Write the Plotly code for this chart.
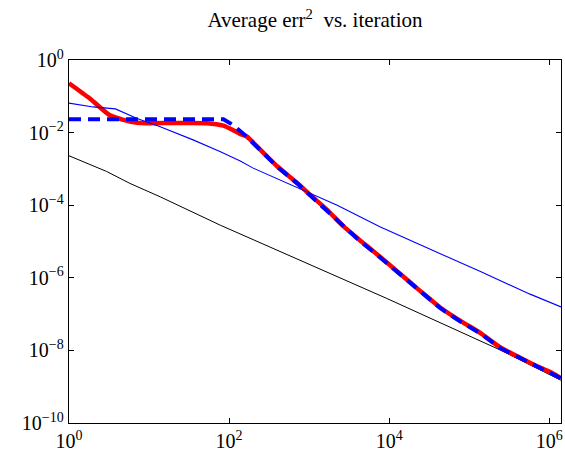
import plotly.graph_objects as go

# ---- data ----
black_x = [1, 2.95, 5.75, 13.8, 78, 436, 9330, 245000, 1.4e6]
black_y = [2.3e-3, 8.5e-4, 4.0e-4, 1.7e-4, 2.8e-5, 5.2e-6, 2.7e-7, 1.02e-8, 1.5e-9]

thin_x = [1, 2, 3.8, 7.08, 13.8, 35.5, 78, 138, 200, 436, 776, 2240, 7760, 32400, 138000, 575000, 1.4e6]
thin_y = [0.065, 0.051, 0.045, 0.0245, 0.0145, 0.0063, 0.00295, 0.00166, 0.00105, 4.9e-4,
          2.8e-4, 1.0e-4, 2.5e-5, 6.3e-6, 1.48e-6, 3.55e-7, 1.58e-7]

dash_x = [1, 85, 112, 158, 245, 398, 708, 1023, 1660, 2690, 4365, 7080, 12000, 24500, 43650,
          77600, 138000, 245000, 436500, 776000, 1.4e6]
dash_y = [0.0234, 0.0234, 0.0162, 0.0085, 0.0033, 0.00115, 4.0e-4, 1.9e-4, 7.4e-5, 2.57e-5,
          1.0e-5, 4.27e-6, 1.62e-6, 4.17e-7, 1.45e-7, 6.2e-8, 2.95e-8, 1.15e-8, 6.0e-9, 3.2e-9, 1.7e-9]

red_x = [1, 1.82, 3.24, 4.79, 7.08, 10, 52.5, 85, 112, 138, 166, 245, 398, 708, 1023, 1660,
         2690, 4365, 7080, 12000, 24500, 43650, 77600, 138000, 245000, 436500, 776000, 1.0e6, 1.4e6]
red_y = [0.229, 0.087, 0.030, 0.0224, 0.0186, 0.0182, 0.0182, 0.0155, 0.0117, 0.0091, 0.0078,
         0.0034, 0.00118, 4.1e-4, 1.95e-4, 7.6e-5, 2.6e-5, 1.05e-5, 4.4e-6, 1.65e-6, 4.3e-7,
         1.5e-7, 6.5e-8, 3.0e-8, 1.2e-8, 6.2e-9, 3.3e-9, 2.6e-9, 1.7e-9]

x_tickvals = [1, 1e2, 1e4, 1e6]
x_ticktext = ["10<sup>0</sup>", "10<sup>2</sup>", "10<sup>4</sup>", "10<sup>6</sup>"]
y_tickvals = [1, 1e-2, 1e-4, 1e-6, 1e-8, 1e-10]
y_ticktext = ["10<sup>0</sup>", "10<sup>−2</sup>", "10<sup>−4</sup>", "10<sup>−6</sup>",
              "10<sup>−8</sup>", "10<sup>−10</sup>"]

FONT = "Liberation Serif"

fig = go.Figure()
fig.add_trace(go.Scatter(x=black_x, y=black_y, mode="lines",
                         line=dict(color="black", width=1)))
fig.add_trace(go.Scatter(x=red_x, y=red_y, mode="lines",
                         line=dict(color="#ff0000", width=4.5, shape="spline", smoothing=0.6)))
fig.add_trace(go.Scatter(x=thin_x, y=thin_y, mode="lines",
                         line=dict(color="#0000ff", width=1.1)))
fig.add_trace(go.Scatter(x=dash_x, y=dash_y, mode="lines",
                         line=dict(color="#0000ff", width=4, dash="12px,7px")))

axis_common = dict(type="log", showgrid=False, zeroline=False, showline=True,
                   linecolor="black", linewidth=1.3, mirror="ticks", ticks="inside",
                   ticklen=5, tickwidth=1, tickcolor="black", automargin=False,
                   tickfont=dict(family=FONT, size=20, color="black"))

fig.update_xaxes(range=[0, 6.146], tickvals=x_tickvals, ticktext=x_ticktext, **axis_common)
fig.update_yaxes(range=[-10, 0], tickvals=y_tickvals, ticktext=y_ticktext, **axis_common)

fig.update_layout(
    template="none",
    width=565, height=455,
    margin=dict(l=69, r=4, t=60, b=32),
    paper_bgcolor="white", plot_bgcolor="white",
    showlegend=False,
    hovermode=False,
    title=dict(text="Average err<sup>2</sup>&nbsp; vs. iteration", x=0.5575, xanchor="center",
               y=0.956, yanchor="middle",
               font=dict(family=FONT, size=21, color="black")),
)

fig.write_html("out.html",
               config={"displayModeBar": False, "staticPlot": True},
               post_script="document.body.style.margin='0';document.body.style.padding='0';")
